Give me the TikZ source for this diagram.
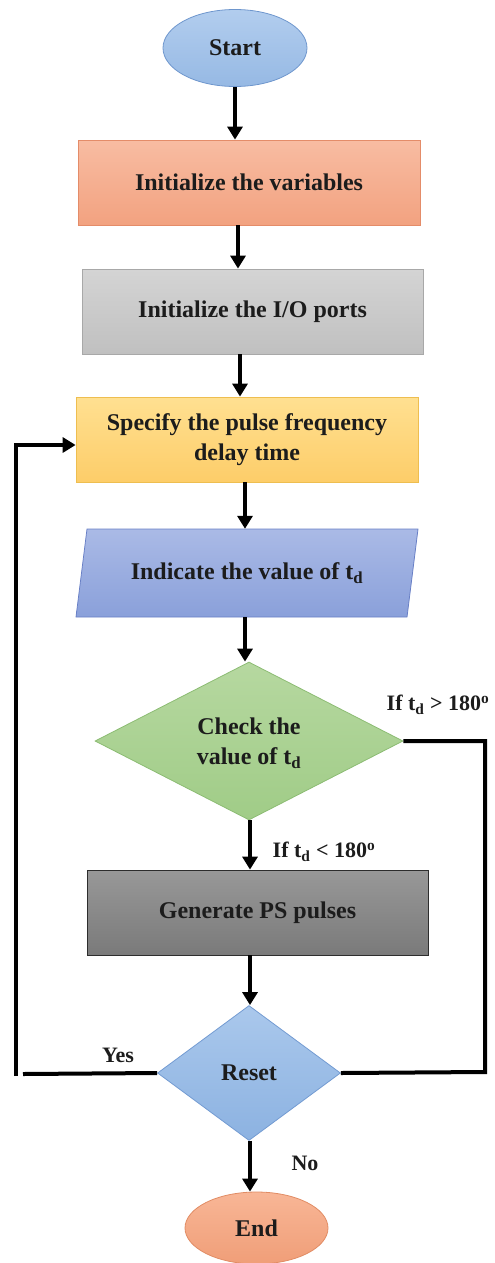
\documentclass[tikz,border=0pt]{standalone}
\usepackage{fontspec}
\setmainfont{Liberation Serif}
\usetikzlibrary{shapes.geometric,arrows.meta,calc}

\definecolor{startTop}{RGB}{178,205,238}
\definecolor{startBot}{RGB}{150,185,228}
\definecolor{startLine}{RGB}{110,150,205}
\definecolor{varTop}{RGB}{248,188,162}
\definecolor{varBot}{RGB}{242,162,128}
\definecolor{varLine}{RGB}{228,140,105}
\definecolor{ioTop}{RGB}{212,212,212}
\definecolor{ioBot}{RGB}{192,192,192}
\definecolor{ioLine}{RGB}{168,168,168}
\definecolor{spTop}{RGB}{255,224,145}
\definecolor{spBot}{RGB}{253,205,105}
\definecolor{spLine}{RGB}{238,190,80}
\definecolor{paTop}{RGB}{170,186,230}
\definecolor{paBot}{RGB}{138,160,218}
\definecolor{paLine}{RGB}{105,128,198}
\definecolor{ckTop}{RGB}{182,216,160}
\definecolor{ckBot}{RGB}{160,204,135}
\definecolor{ckLine}{RGB}{140,188,115}
\definecolor{genTop}{RGB}{152,152,152}
\definecolor{genBot}{RGB}{122,122,122}
\definecolor{genLine}{RGB}{45,45,45}
\definecolor{rsTop}{RGB}{170,200,236}
\definecolor{rsBot}{RGB}{140,178,225}
\definecolor{rsLine}{RGB}{115,155,210}
\definecolor{endTop}{RGB}{248,182,150}
\definecolor{endBot}{RGB}{240,158,120}
\definecolor{endLine}{RGB}{225,140,100}
\definecolor{ink}{RGB}{28,28,28}

\tikzset{
  txt/.style={font=\fontsize{24}{30}\selectfont\bfseries, text=ink, align=center},
  lbl/.style={font=\fontsize{22}{26}\selectfont\bfseries, text=ink, inner sep=0pt},
  oval/.style={ellipse, txt, line width=0.8pt, inner sep=0pt},
  procbox/.style={rectangle, txt, line width=0.8pt, minimum width=341pt, minimum height=85pt, inner sep=0pt},
  decision/.style={diamond, txt, line width=0.8pt, inner sep=0pt, aspect=1},
  flow/.style={line width=4pt, -{Triangle[width=15pt,length=13pt]}},
  wire/.style={line width=4pt},
}

\begin{document}
\begin{tikzpicture}[x=1pt,y=-1pt]
\useasboundingbox (0,0) rectangle (495,1263);

% terminal and process blocks
\node[oval, draw=startLine, top color=startTop, bottom color=startBot,
      minimum width=144pt, minimum height=77pt] (start) at (235,48) {Start};
\node[procbox, draw=varLine, top color=varTop, bottom color=varBot,
      minimum width=342pt] (init) at (249,182.5) {Initialize the variables};
\node[procbox, draw=ioLine, top color=ioTop, bottom color=ioBot] (io) at (252.5,311.5) {Initialize the I/O ports};
\node[procbox, draw=spLine, top color=spTop, bottom color=spBot,
      minimum width=342pt] (spec) at (247,439.5) {Specify the pulse frequency\\delay time};

% input block (parallelogram)
\shade[top color=paTop, bottom color=paBot, draw=paLine, line width=0.8pt]
  (87,529) -- (418,529) -- (407,617) -- (76,617) -- cycle;
\node[txt, minimum height=88pt, inner sep=0pt] (para) at (247,573) {Indicate the value of t\textsubscript{d}};

% decisions
\node[decision, draw=ckLine, top color=ckTop, bottom color=ckBot,
      minimum width=308pt, minimum height=158pt] (check) at (249,741) {};
\node[txt] at (249,743) {Check the\\value of t\textsubscript{d}};

\node[procbox, draw=genLine, top color=genTop, bottom color=genBot] (gen) at (257.5,912.5) {Generate PS pulses};

\node[decision, draw=rsLine, top color=rsTop, bottom color=rsBot,
      minimum width=183pt, minimum height=135pt] (reset) at (249,1073) {};
\node[txt] at (249,1073) {Reset};

\node[oval, draw=endLine, top color=endTop, bottom color=endBot,
      minimum width=143pt, minimum height=72pt] (end) at (256.5,1228) {End};

% main flow
\draw[flow] (start.south) -- (start.south |- init.north);
\draw[flow] (init.south -| 238,0) -- (io.north -| 238,0);
\draw[flow] (io.south -| 240,0) -- (spec.north -| 240,0);
\draw[flow] (spec.south -| 245,0) -- (para.north -| 245,0);
\draw[flow] (para.south -| 245,0) -- (check.north -| 245,0);
\draw[flow] (check.south -| 250,0) -- (gen.north -| 250,0);
\draw[flow] (gen.south -| 250,0) -- (reset.north -| 250,0);
\draw[flow] (reset.south -| 250,0) -- (end.north -| 250,0);

% branch when t_d exceeds 180 degrees
\coordinate (rtop) at (485,741);
\coordinate (rbot) at (485,1072);
\draw[wire, line join=miter] (check.east) -- (rtop) -- (rbot) -- (reset.east);

% loop back to the delay-time block
\coordinate (lbot) at (23,1074);
\coordinate (ltop) at (16,445);
\draw[wire] (reset.west) -- (lbot);
\draw[flow] (16,1076) -- (ltop) -- (ltop -| spec.west);

% branch labels
\node[lbl] at (438,705) {If t\textsubscript{d} > 180\textsuperscript{o}};
\node[lbl] at (324,852) {If t\textsubscript{d} < 180\textsuperscript{o}};
\node[lbl] at (118,1055) {Yes};
\node[lbl] at (305,1163) {No};
\end{tikzpicture}
\end{document}
